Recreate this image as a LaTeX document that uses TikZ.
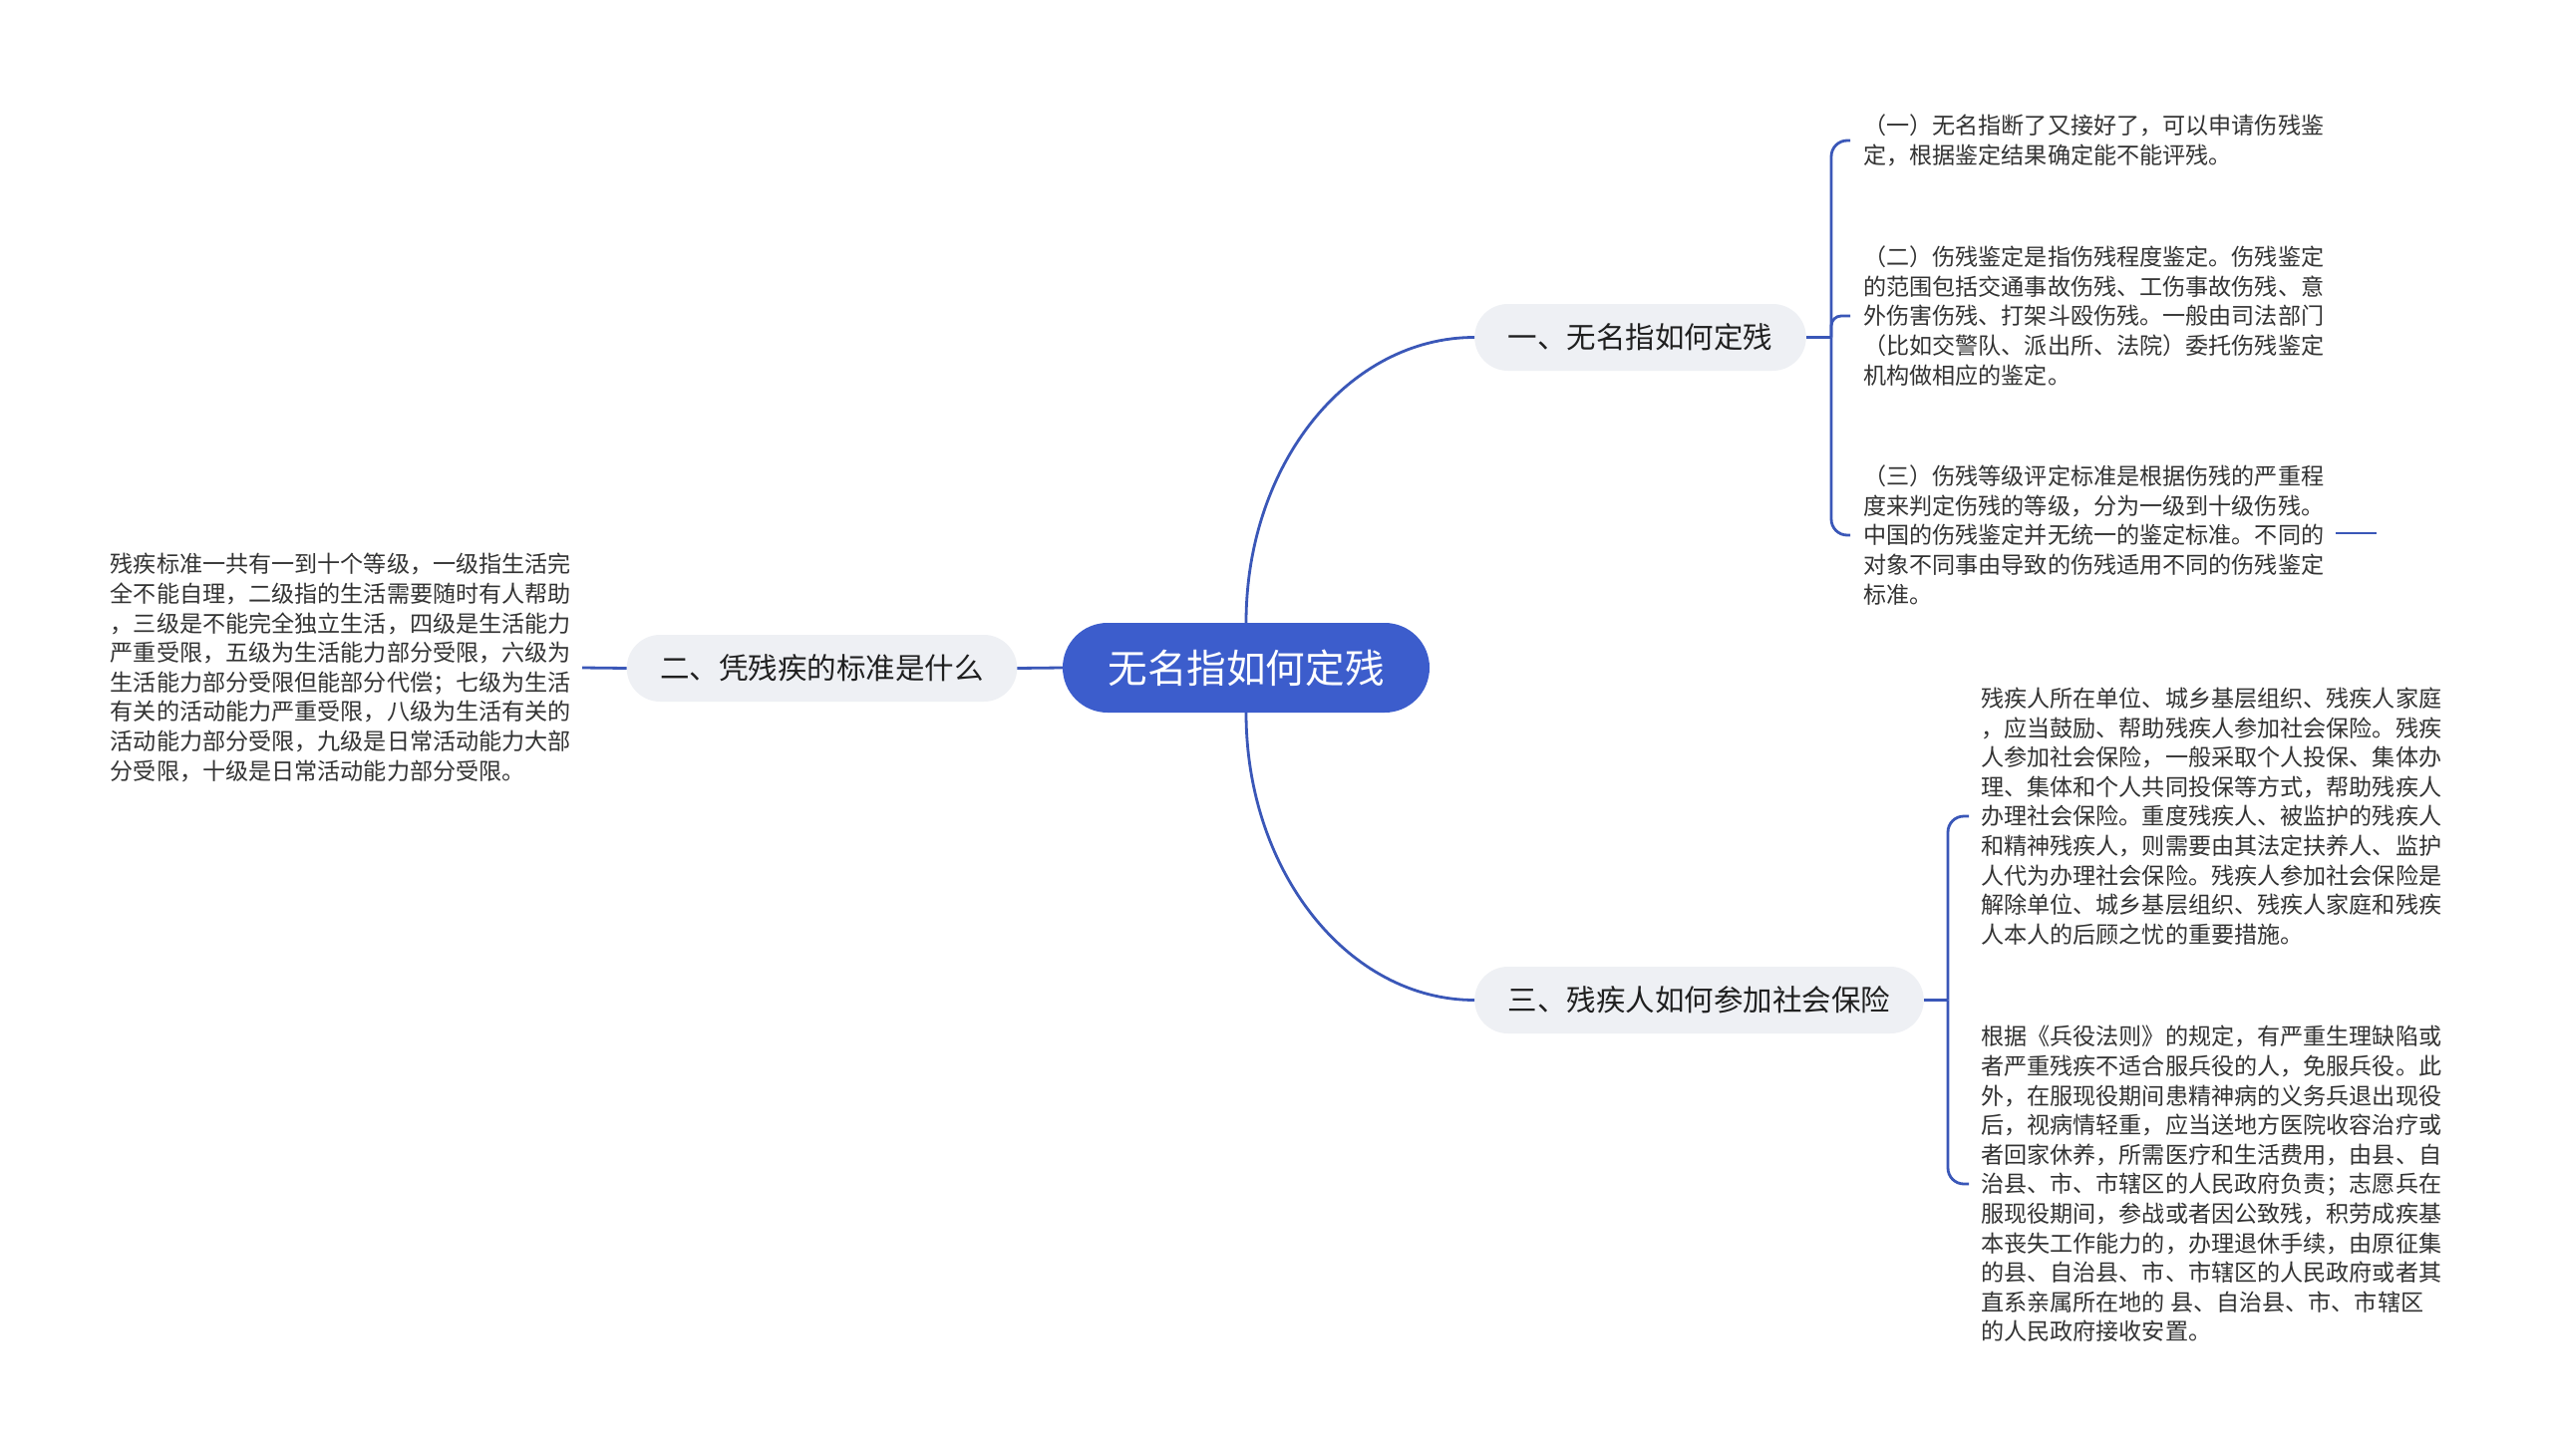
\documentclass[tikz,border=0pt]{standalone}
\usepackage{fontspec}
\newfontfamily\cjk{Noto Sans CJK SC}
\definecolor{mainblue}{HTML}{3C5DCC}
\definecolor{linkblue}{HTML}{3A57B8}
\definecolor{bubble}{HTML}{EEF0F4}
\definecolor{txt}{HTML}{333333}
\begin{document}
\begin{tikzpicture}[x=1pt,y=-1pt,
  leaf/.style={font={\cjk\fontsize{23.1}{29.6}\selectfont}, text=txt, align=left, inner ysep=0pt},
  branch/.style={font={\cjk\fontsize{29.5}{36}\selectfont}, fill=bubble, rounded corners=33.5pt, minimum height=67pt, inner xsep=33.5pt, text=black!88},
  rootbox/.style={font={\cjk\fontsize{39.6}{46}\selectfont}, fill=mainblue, text=white, rounded corners=45pt, minimum height=90pt, minimum width=368pt},
  link/.style={draw=linkblue, line width=2.8pt}]
\useasboundingbox (0,0) rectangle (2560,1461);
\fill[white] (0,0) rectangle (2560,1461);

\node[rootbox] (c) at (1250,670) {无名指如何定残};
\node[branch] (b1) at (1645.5,338.5) {一、无名指如何定残};
\node[branch] (b2) at (824.5,670.5) {二、凭残疾的标准是什么};
\node[branch] (b3) at (1704.5,1003.5) {三、残疾人如何参加社会保险};

\coordinate (j1) at (1837,338.5);
\coordinate (j3) at (1954,1003.5);

\node[leaf, inner xsep=13pt, anchor=west] (l1) at (1856,141) {（一）无名指断了又接好了，可以申请伤残鉴\\定，根据鉴定结果确定能不能评残。};
\node[leaf, inner xsep=13pt, anchor=west] (l2) at (1856,317) {（二）伤残鉴定是指伤残程度鉴定。伤残鉴定\\的范围包括交通事故伤残、工伤事故伤残、意\\外伤害伤残、打架斗殴伤残。一般由司法部门\\（比如交警队、派出所、法院）委托伤残鉴定\\机构做相应的鉴定。};
\node[leaf, inner xsep=13pt, anchor=west] (l3) at (1856,537) {（三）伤残等级评定标准是根据伤残的严重程\\度来判定伤残的等级，分为一级到十级伤残。\\中国的伤残鉴定并无统一的鉴定标准。不同的\\对象不同事由导致的伤残适用不同的伤残鉴定\\标准。};

\node[leaf, inner xsep=11pt, anchor=east] (l0) at (584,670) {残疾标准一共有一到十个等级，一级指生活完\\全不能自理，二级指的生活需要随时有人帮助\\，三级是不能完全独立生活，四级是生活能力\\严重受限，五级为生活能力部分受限，六级为\\生活能力部分受限但能部分代偿；七级为生活\\有关的活动能力严重受限，八级为生活有关的\\活动能力部分受限，九级是日常活动能力大部\\分受限，十级是日常活动能力部分受限。};

\node[leaf, inner xsep=12pt, anchor=west] (la) at (1975,819) {残疾人所在单位、城乡基层组织、残疾人家庭\\，应当鼓励、帮助残疾人参加社会保险。残疾\\人参加社会保险，一般采取个人投保、集体办\\理、集体和个人共同投保等方式，帮助残疾人\\办理社会保险。重度残疾人、被监护的残疾人\\和精神残疾人，则需要由其法定扶养人、监护\\人代为办理社会保险。残疾人参加社会保险是\\解除单位、城乡基层组织、残疾人家庭和残疾\\人本人的后顾之忧的重要措施。};
\node[leaf, inner xsep=12pt, anchor=west] (lb) at (1975,1188) {根据《兵役法则》的规定，有严重生理缺陷或\\者严重残疾不适合服兵役的人，免服兵役。此\\外，在服现役期间患精神病的义务兵退出现役\\后，视病情轻重，应当送地方医院收容治疗或\\者回家休养，所需医疗和生活费用，由县、自\\治县、市、市辖区的人民政府负责；志愿兵在\\服现役期间，参战或者因公致残，积劳成疾基\\本丧失工作能力的，办理退休手续，由原征集\\的县、自治县、市、市辖区的人民政府或者其\\直系亲属所在地的 县、自治县、市、市辖区\\的人民政府接收安置。};

% main connectors
\draw[link] (c.north) .. controls +(0,-160) and +(-126,0) .. (b1.west);
\draw[link] (c.south) .. controls +(0,160) and +(-126,0) .. (b3.west);
\draw[link] (c.west) -- (b2.east);
\draw[link] (b2.west) -- (l0.east);

% branch 1 leaves
\draw[link] (b1.east) -- (j1);
\draw[link, rounded corners=16pt] (j1) |- (l1.west);
\draw[link, rounded corners=10pt] (j1) |- (l2.west);
\draw[link, rounded corners=16pt] (j1) |- (l3.west);
\coordinate (t1) at (2343,535);
\coordinate (t2) at (2384,535);
\draw[link] (t1) -- (t2);

% branch 3 leaves
\draw[link] (b3.east) -- (j3);
\draw[link, rounded corners=16pt] (j3) |- (la.west);
\draw[link, rounded corners=16pt] (j3) |- (lb.west);
\end{tikzpicture}
\end{document}
